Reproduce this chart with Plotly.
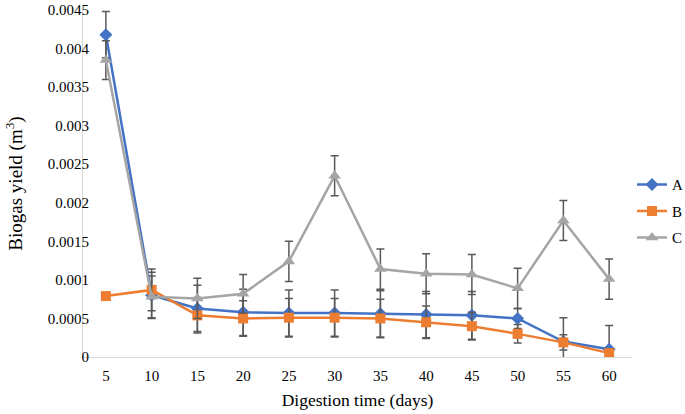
import plotly.graph_objects as go

days = ["5", "10", "15", "20", "25", "30", "35", "40", "45", "50", "55", "60"]
a_vals = [0.00418, 0.00080, 0.00063, 0.00058, 0.00057, 0.00057, 0.00056, 0.00055, 0.00054, 0.00050, 0.00020, 0.00010]
b_vals = [0.00079, 0.00087, 0.00054, 0.00050, 0.00051, 0.00051, 0.00050, 0.00045, 0.00040, 0.00030, 0.00019, 0.00005]
c_vals = [0.00385, 0.00078, 0.00076, 0.00082, 0.00124, 0.00235, 0.00114, 0.00108, 0.00107, 0.00089, 0.00177, 0.00101]
a_err = [0.00030, 0.00030, 0.00030, 0.00030, 0.00030, 0.00030, 0.00030, 0.00030, 0.00031, 0.00013, 0.00031, 0.00031]
b_err = [0.00002, 0.00027, 0.00023, 0.00023, 0.00025, 0.00025, 0.00025, 0.00021, 0.00018, 0.00012, 0.00010, 0.00005]
c_err = [0.00025, 0.00027, 0.00026, 0.00025, 0.00026, 0.00026, 0.00026, 0.00026, 0.00026, 0.00026, 0.00026, 0.00026]

err_color = "#595959"
font_family = "Liberation Serif, DejaVu Serif, serif"

def err(vals):
    return dict(type="data", array=vals, visible=True, color=err_color, thickness=1.5, width=4)

fig = go.Figure()
fig.add_trace(go.Scatter(x=days, y=a_vals, name="A", mode="lines+markers", legendgroup="a",
                         line=dict(color="#4472C4", width=2.5),
                         marker=dict(symbol="diamond", size=10, color="#4472C4"),
                         error_y=err(a_err)))
fig.add_trace(go.Scatter(x=days, y=b_vals, name="B", mode="lines+markers", legendgroup="b",
                         line=dict(color="#ED7D31", width=2.5),
                         marker=dict(symbol="square", size=10, color="#ED7D31"),
                         error_y=err(b_err)))
fig.add_trace(go.Scatter(x=days, y=c_vals, name="C", mode="lines+markers", legendgroup="c",
                         line=dict(color="#A5A5A5", width=2.5),
                         marker=dict(symbol="triangle-up", size=11, color="#A5A5A5"),
                         error_y=err(c_err)))

fig.update_layout(
    width=685, height=414,
    margin=dict(l=83, r=53, t=10, b=57, autoexpand=False),
    paper_bgcolor="white", plot_bgcolor="white",
    font=dict(family=font_family, size=15, color="#000000"),
    showlegend=True,
    legend=dict(x=1.0, y=0.42, xanchor="left", yanchor="middle",
                font=dict(family=font_family, size=15), bgcolor="rgba(0,0,0,0)",
                tracegroupgap=4, itemwidth=30),
    xaxis=dict(type="category", range=[-0.5, 11.5], showgrid=False, automargin=False,
               showline=True, linecolor="#D9D9D9", linewidth=1,
               ticks="outside", ticklen=5, tickcolor="rgba(0,0,0,0)",
               tickfont=dict(family=font_family, size=15),
               title=dict(text="Digestion time (days)", font=dict(family=font_family, size=17.5), standoff=10)),
    yaxis=dict(range=[0, 0.0045], dtick=0.0005, tickformat="~g", showgrid=False, automargin=False,
               showline=True, linecolor="#D9D9D9", linewidth=1,
               ticks="", ticklen=0, ticklabelstandoff=-10,
               tickfont=dict(family=font_family, size=15), zeroline=False,
               title=dict(text="Biogas yield (m<sup>3</sup>)", font=dict(family=font_family, size=19), standoff=20)),
)

fig.write_html("out.html", config={"displayModeBar": False},
               post_script="document.body.style.margin='0';document.body.style.overflow='hidden';")
